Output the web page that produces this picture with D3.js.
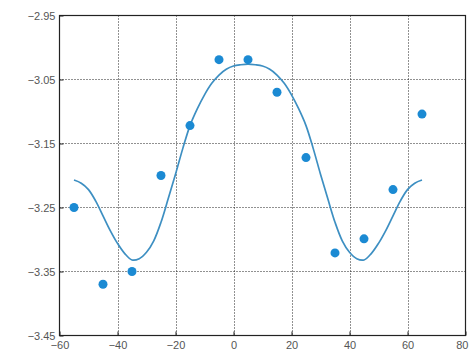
<!DOCTYPE html>
<html><head><meta charset="utf-8">
<script src="https://cdn.jsdelivr.net/npm/d3@7"></script>
<style>body{margin:0;background:#fff}svg{display:block}</style>
</head><body>
<script>
const pointX = [-55,-45,-35,-25,-15,-5,5,15,25,35,45,55,65];
const pointY = [-3.25,-3.37,-3.35,-3.20,-3.122,-3.019,-3.019,-3.07,-3.172,-3.321,-3.299,-3.222,-3.104];
const curveX = [-55,-52.5,-50,-47.5,-45,-42.5,-40,-37.5,-35,-32.5,-30,-27.5,-25,-22.5,-20,-17.5,-15,-12.5,-10,-7.5,-5,-2.5,0,2.5,5,
                7.5,10,12.5,15,17.5,20,22.5,25,27.5,30,32.5,35,37.5,40,42.5,45,47.5,50,52.5,55,57.5,60,62.5,65];
const curveY = [-3.207,-3.212,-3.222,-3.240,-3.263,-3.286,-3.306,-3.322,-3.332,-3.330,-3.320,-3.302,-3.273,-3.236,-3.198,-3.158,-3.122,-3.096,-3.074,-3.056,-3.043,-3.034,-3.029,-3.027,-3.026,
                -3.027,-3.029,-3.034,-3.043,-3.056,-3.074,-3.096,-3.122,-3.158,-3.198,-3.236,-3.273,-3.302,-3.320,-3.330,-3.332,-3.322,-3.306,-3.286,-3.263,-3.240,-3.222,-3.212,-3.207];
const xTicks = [-60,-40,-20,0,20,40,60,80];
const yTicks = [-2.95,-3.05,-3.15,-3.25,-3.35,-3.45];

const W=469,H=354;
const L=59.5,R=465.5,T=15.5,B=335.5;
const svg=d3.select("body").append("svg").attr("width",W).attr("height",H);
const x=d3.scaleLinear().domain([-60,80]).range([L,R]);
const y=d3.scaleLinear().domain([-3.45,-2.95]).range([B,T]);
const fmt=v=>(v<0?"\u2212":"")+Math.abs(v).toString();
const fmtY=v=>(v<0?"\u2212":"")+Math.abs(v).toFixed(2);

// grid
const g=svg.append("g");
g.selectAll("line.gx").data(xTicks.slice(1,-1)).join("line")
 .attr("x1",d=>Math.round(x(d))+0.5).attr("x2",d=>Math.round(x(d))+0.5).attr("y1",T).attr("y2",B)
 .attr("stroke","#222").attr("stroke-width",1).attr("stroke-dasharray","1,2");
g.selectAll("line.gy").data(yTicks.slice(1,-1)).join("line")
 .attr("y1",d=>Math.round(y(d))+0.5).attr("y2",d=>Math.round(y(d))+0.5).attr("x1",L).attr("x2",R)
 .attr("stroke","#222").attr("stroke-width",1).attr("stroke-dasharray","1,2");

// axes
const ax=d3.axisBottom(x).tickValues(xTicks).tickFormat(fmt).tickSize(-4).tickPadding(6);
const ay=d3.axisLeft(y).tickValues(yTicks).tickFormat(fmtY).tickSize(-4).tickPadding(4);
const gx=svg.append("g").attr("transform",`translate(0,${B})`).call(ax);
const gy=svg.append("g").attr("transform",`translate(${L},0)`).call(ay);
[gx,gy].forEach(a=>{
  a.select(".domain").remove();
  a.selectAll("line").attr("stroke","#222");
  a.selectAll("text").attr("fill","#555").style("font-family","Liberation Sans, Arial, sans-serif").style("font-size","11px");
});
gy.selectAll("text").attr("dy","0.35em");
gx.selectAll("text").filter(d=>d===80).attr("text-anchor","end").attr("x",W-1-R);
svg.append("rect").attr("x",L).attr("y",T).attr("width",R-L).attr("height",B-T)
 .attr("fill","none").attr("stroke","#222").attr("stroke-width",1.2);

// curve
const cdata=curveX.map((v,i)=>[v,curveY[i]]);
svg.append("path").datum(cdata)
 .attr("d",d3.line().x(d=>x(d[0])).y(d=>y(d[1])).curve(d3.curveCatmullRom.alpha(0.5)))
 .attr("fill","none").attr("stroke","#3d8fc2").attr("stroke-width",1.7);

// points
svg.selectAll("circle.p").data(pointX.map((v,i)=>[v,pointY[i]])).join("circle")
 .attr("cx",d=>x(d[0])).attr("cy",d=>y(d[1])).attr("r",4.5).attr("fill","#1b8ad3");
</script>
</body></html>
